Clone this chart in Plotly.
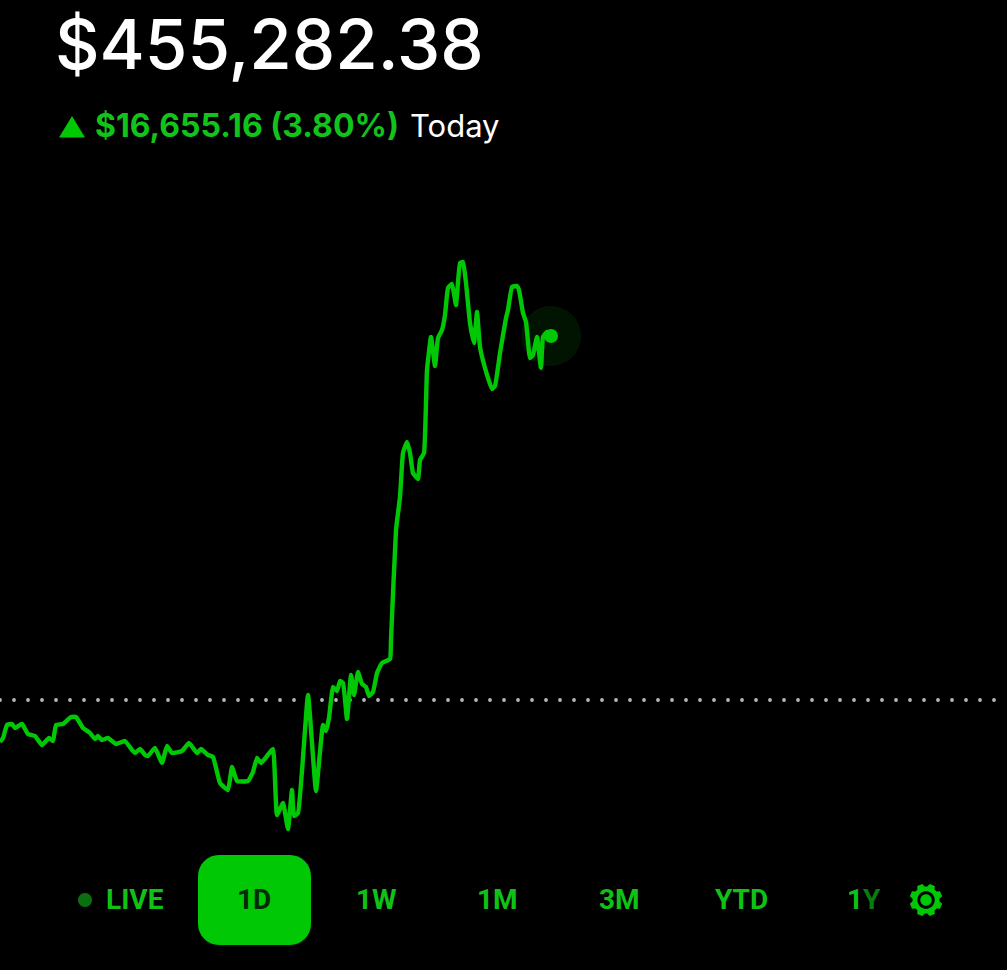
import math
import plotly.graph_objects as go

# Session time (arbitrary intraday units) and change from previous close in dollars
time_index = [0,3,7,12,15,22,28,35,42,49,53,56,63,71,76,83,90,95,98,102,108,116,125,132,135,140,145,148,155,162,167,172,182,189,197,201,208,213,220,228,232,237,248,253,257,261,267,273,277,283,288,292,294,298,308,316,323,326,329,333,337,340,343,347,351,354,358,362,366,369,373,377,382,390,391,396,400,403,407,410,413,418,420,424,427,431,435,438,442,445,448,452,456,460,463,466,470,474,477,480,485,492,495,500,506,508,512,517,519,523,526,530,533,537,541,543,547,551]
change_usd = [-1922,-1739,-1144,-1098,-1281,-1098,-1556,-1647,-2059,-1739,-1876,-1144,-1098,-778,-778,-1281,-1510,-1785,-1647,-1830,-1739,-2013,-1876,-2288,-2425,-2242,-2517,-2563,-2196,-2883,-2105,-2425,-2334,-1968,-2425,-2242,-2517,-2608,-3798,-4118,-3066,-3707,-3707,-3295,-2654,-2883,-2563,-2242,-5262,-4713,-5903,-4118,-5308,-5171,229,-4164,-1144,-1419,-824,595,412,869,778,-869,1144,229,1281,732,595,183,366,1236,1693,1876,2746,7779,9289,11303,11806,11303,10388,10113,10982,11303,15101,16611,15284,16565,16931,17618,18853,19036,18075,19997,20043,19082,17252,16336,17755,16153,15192,14231,14369,15879,17480,17846,18899,18945,18762,17709,17297,15650,15787,16611,15192,16611,16840,16655]
baseline_time = list(range(0, 1008, 14))
baseline_change = [0] * len(baseline_time)

balance_text = "$455,282.38"
gain_text = "$16,655.16 (3.80%)"
period_text = "Today"
range_labels = ["LIVE", "1D", "1W", "1M", "3M", "YTD"]

GREEN = "#00C805"
W, H = 1007, 970
px = lambda x: x / W
py = lambda y: 1 - y / H


def path(points, close=True):
    s = "M" + " L".join(f"{px(x):.5f},{py(y):.5f}" for x, y in points)
    return s + (" Z" if close else "")


def circle_path(cx, cy, r, n=48):
    return path([(cx + r * math.cos(2 * math.pi * i / n), cy + r * math.sin(2 * math.pi * i / n)) for i in range(n)])


def gear_path(cx, cy, outer, inner, teeth=8):
    pts = []
    step = 2 * math.pi / teeth
    for i in range(teeth):
        a = i * step + step / 2
        for off, r in [(-0.30, inner), (-0.17, outer), (0.17, outer), (0.30, inner)]:
            pts.append((cx + r * math.cos(a + off * step * 1.25), cy + r * math.sin(a + off * step * 1.25)))
    return path(pts)


def rounded_rect(x0, y0, x1, y1, r, n=8):
    pts = []
    for cx, cy, start in [(x1 - r, y0 + r, -90), (x1 - r, y1 - r, 0), (x0 + r, y1 - r, 90), (x0 + r, y0 + r, 180)]:
        for i in range(n + 1):
            a = math.radians(start + 90 * i / n)
            pts.append((cx + r * math.cos(a), cy + r * math.sin(a)))
    return path(pts)


fig = go.Figure()
fig.add_trace(go.Scatter(x=baseline_time, y=baseline_change, mode="markers",
                         marker=dict(size=3.8, color="#b8b8b8"), hoverinfo="skip"))
fig.add_trace(go.Scatter(x=time_index[-1:], y=change_usd[-1:], mode="markers",
                         marker=dict(size=60, color="rgba(0,200,5,0.10)"), hoverinfo="skip"))
fig.add_trace(go.Scatter(x=time_index, y=change_usd, mode="lines",
                         line=dict(color=GREEN, width=4.4, shape="spline", smoothing=0.35), hoverinfo="skip"))
fig.add_trace(go.Scatter(x=time_index[-1:], y=change_usd[-1:], mode="markers",
                         marker=dict(size=14, color=GREEN), hoverinfo="skip"))

shapes = [
    dict(type="path", path=rounded_rect(198, 855, 311, 945, 21), fillcolor=GREEN, line_width=0, xref="paper", yref="paper", layer="below"),
    dict(type="path", path=path([(59, 137.5), (85, 137.5), (72, 116)]), fillcolor=GREEN, line_width=0, xref="paper", yref="paper"),
    dict(type="path", path=circle_path(85, 900, 7), fillcolor="#0b6f10", line_width=0, xref="paper", yref="paper"),
    dict(type="path", path=gear_path(926, 900, 16.5, 13.5) + " " + circle_path(926, 900, 8.7), fillcolor=GREEN, line_width=0, xref="paper", yref="paper"),
    dict(type="path", path=circle_path(926, 900, 5.7), fillcolor=GREEN, line_width=0, xref="paper", yref="paper"),
]

ann = []


def label(text, x, y, size, color, anchor="center", family="Roboto", weight=700):
    ann.append(dict(text=text, x=px(x), y=py(y), xref="paper", yref="paper", xanchor=anchor, yanchor="middle",
                    showarrow=False, font=dict(family=family, size=size, color=color, weight=weight)))


label(balance_text, 53, 44, 69, "#ffffff", "left", "Inter", 500)
label(gain_text, 93, 126, 32, "#11c31a", "left", "Inter", 700)
label(period_text, 408, 126, 31, "#ffffff", "left", "Inter", 400)
for text, x, color in zip(range_labels, [134.5, 254, 376, 497, 619, 741],
                          ["#0fc316", "#022a06", "#0fc316", "#0fc316", "#0fc316", "#0fc316"]):
    label(text, x, 899, 28, color)
label('1<span style="color:#0b7a10">Y</span>', 864, 899, 28, "#0fc316")

fig.update_layout(
    width=W, height=H, margin=dict(l=0, r=0, t=0, b=0), showlegend=False,
    paper_bgcolor="#000000", plot_bgcolor="#000000",
    xaxis=dict(range=[0, W], visible=False, fixedrange=True),
    yaxis=dict(range=[-12355.2, 32032], visible=False, fixedrange=True),
    shapes=shapes, annotations=ann,
)
fig.write_html("out.html", config={"displayModeBar": False},
               post_script="document.body.style.margin='0';document.body.style.background='#000';document.body.style.overflow='hidden';")
